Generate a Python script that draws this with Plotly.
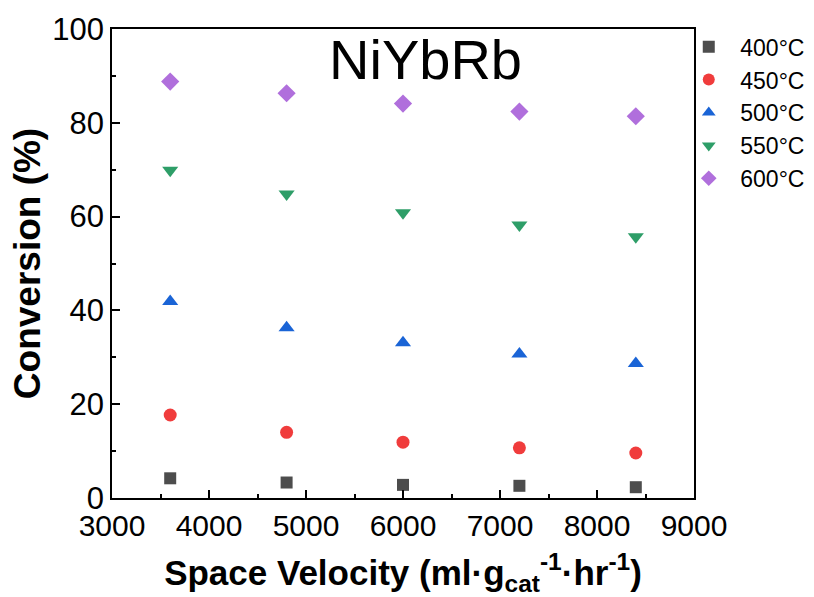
import plotly.graph_objects as go

space_velocity = [3600, 4800, 6000, 7200, 8400]
conv_400 = [4.2, 3.3, 2.8, 2.6, 2.3]
conv_450 = [17.7, 14.0, 11.9, 10.7, 9.6]
conv_500 = [41.9, 36.3, 33.1, 30.7, 28.7]
conv_550 = [69.9, 64.8, 60.8, 58.2, 55.7]
conv_600 = [88.8, 86.3, 84.1, 82.4, 81.4]

series_names = ["400°C", "450°C", "500°C", "550°C", "600°C"]
series_values = [conv_400, conv_450, conv_500, conv_550, conv_600]
symbols = ["square", "circle", "triangle-up", "triangle-down", "diamond"]
colors = ["#4d4d4d", "#f03c3c", "#1a64d6", "#2e9e68", "#b06fdc"]
sizes = [12, 13, 14, 14, 14]

fig = go.Figure()
for name, vals, sym, col, sz in zip(series_names, series_values, symbols, colors, sizes):
    fig.add_trace(go.Scatter(
        x=space_velocity, y=vals, mode="markers", name="\u2002" + name,
        marker=dict(symbol=sym, color=col, size=sz, line=dict(width=0)),
    ))

fig.add_annotation(
    text="NiYbRb", xref="paper", yref="paper", x=0.538, y=0.935,
    xanchor="center", yanchor="middle",
    showarrow=False, font=dict(family="Arial, Liberation Sans", size=56, color="black"),
)

fig.update_layout(
    width=814, height=597,
    margin=dict(l=112, r=120, t=29, b=99, autoexpand=False),
    paper_bgcolor="white", plot_bgcolor="white",
    font=dict(family="Arial, Liberation Sans", color="black"),
    legend=dict(x=0.991, y=1.008, xanchor="left", yanchor="top",
                font=dict(size=23, color="black"), bgcolor="rgba(0,0,0,0)",
                itemsizing="constant", tracegroupgap=0),
    xaxis=dict(
        range=[3000, 9000], dtick=1000, tick0=3000,
        showline=True, linecolor="black", linewidth=1.5, mirror=True,
        ticks="inside", ticklen=8, tickwidth=1.5, tickcolor="black",
        minor=dict(ticks="inside", ticklen=4, dtick=500, tickcolor="black", tickwidth=1.5),
        showgrid=False, zeroline=False,
        tickfont=dict(size=30),
        title=dict(text="<b>Space Velocity (ml·g<sub>cat</sub><sup>-1</sup>·hr<sup>-1</sup>)</b>",
                   font=dict(size=35), standoff=20),
    ),
    yaxis=dict(
        range=[0, 100], dtick=20,
        showline=True, linecolor="black", linewidth=1.5, mirror=True,
        ticks="inside", ticklen=8, tickwidth=1.5, tickcolor="black",
        minor=dict(ticks="inside", ticklen=4, dtick=10, tickcolor="black", tickwidth=1.5),
        showgrid=False, zeroline=False,
        tickfont=dict(size=31),
        title=dict(text="<b>Conversion (%)</b>", font=dict(size=37), standoff=0),
    ),
)

fig.write_html("out.html")
